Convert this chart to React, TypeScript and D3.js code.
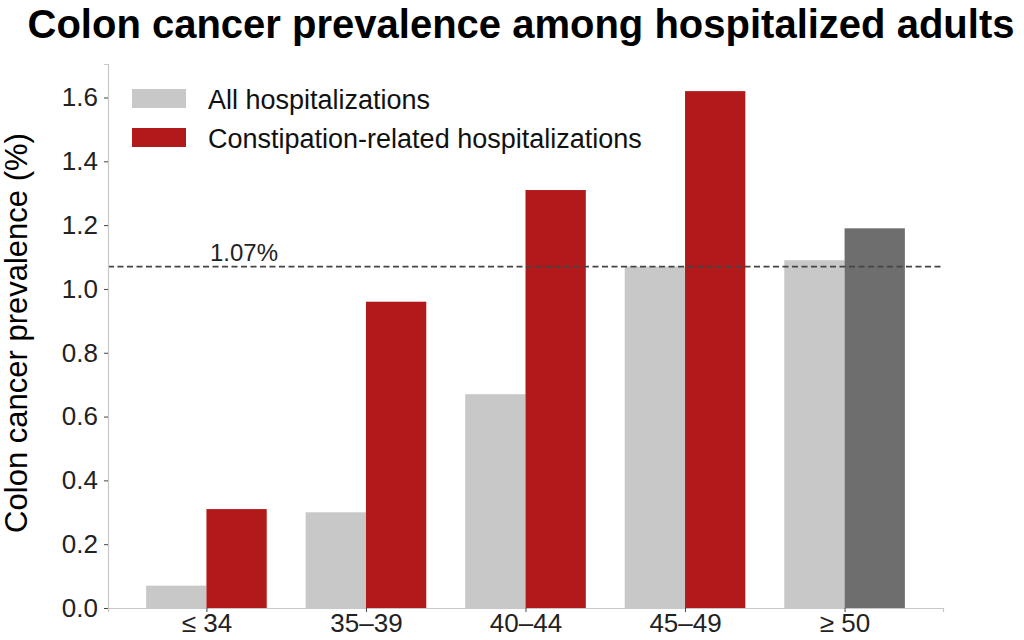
import * as d3 from "d3";
import { useEffect, useRef } from "react";

const CATEGORIES = ["≤ 34", "35–39", "40–44", "45–49", "≥ 50"];
const ALL_HOSP = [0.07, 0.3, 0.67, 1.07, 1.09];
const CONSTIP = [0.31, 0.96, 1.31, 1.62, 1.19];
const Y_TICKS = [0, 0.2, 0.4, 0.6, 0.8, 1.0, 1.2, 1.4, 1.6];
const REF_LINE = 1.07;
const LEGEND = ["All hospitalizations", "Constipation-related hospitalizations"];

const GRAY = "#c8c8c8";
const RED = "#b2191b";
const DARK = "#6e6e6e";
const FONT = "'Liberation Sans', Arial, sans-serif";

export default function App() {
  const ref = useRef<SVGSVGElement | null>(null);

  useEffect(() => {
    const svg = d3.select(ref.current);
    svg.selectAll("*").remove();

    const width = 1024;
    const height = 640;
    const left = 108;
    const right = 943;
    const top = 64;
    const bottom = 608;

    const x = d3.scalePoint<string>().domain(CATEGORIES).range([left, right]).padding(0.617);
    const y = d3.scaleLinear().domain([0, 1.705]).range([bottom, top]);
    const barW = x.step() * 0.378;

    svg.attr("width", width).attr("height", height).style("font-family", FONT);

    svg.append("text")
      .attr("x", 521)
      .attr("y", 38)
      .attr("text-anchor", "middle")
      .attr("font-size", 40)
      .attr("font-weight", "bold")
      .attr("fill", "#000")
      .text("Colon cancer prevalence among hospitalized adults");

    // bars
    CATEGORIES.forEach((c, i) => {
      const cx = x(c) ?? 0;
      svg.append("rect")
        .attr("x", cx - barW)
        .attr("y", y(ALL_HOSP[i]))
        .attr("width", barW)
        .attr("height", y(0) - y(ALL_HOSP[i]))
        .attr("fill", GRAY);
      svg.append("rect")
        .attr("x", cx)
        .attr("y", y(CONSTIP[i]))
        .attr("width", barW)
        .attr("height", y(0) - y(CONSTIP[i]))
        .attr("fill", i === CATEGORIES.length - 1 ? DARK : RED);
    });

    // reference line
    svg.append("line")
      .attr("x1", left)
      .attr("x2", right - 2)
      .attr("y1", y(REF_LINE))
      .attr("y2", y(REF_LINE))
      .attr("stroke", "#444")
      .attr("stroke-width", 1.6)
      .attr("stroke-dasharray", "6,3.5");
    svg.append("text")
      .attr("x", 210)
      .attr("y", y(REF_LINE) - 6)
      .attr("font-size", 24)
      .attr("fill", "#222")
      .text("1.07%");

    // axes
    const yAxis = svg.append("g").attr("transform", `translate(${left},0)`)
      .call(d3.axisLeft(y).tickValues(Y_TICKS).tickFormat(d3.format(".1f")).tickSize(4).tickPadding(6));
    yAxis.select(".domain").attr("stroke", "#c8c8c8").attr("stroke-width", 1.2);
    yAxis.selectAll(".tick line").attr("stroke", "#444");
    yAxis.selectAll(".tick text").attr("font-size", 26).attr("fill", "#222").attr("font-family", FONT);

    const xAxis = svg.append("g").attr("transform", `translate(0,${bottom})`)
      .call(d3.axisBottom(x).tickSize(4).tickPadding(2));
    xAxis.select(".domain").attr("stroke", "#c8c8c8").attr("stroke-width", 1.2);
    xAxis.selectAll(".tick line").attr("stroke", "#444");
    xAxis.selectAll(".tick text").attr("font-size", 26).attr("fill", "#222").attr("font-family", FONT);

    svg.append("text")
      .attr("transform", `translate(27,333) rotate(-90)`)
      .attr("text-anchor", "middle")
      .attr("font-size", 31)
      .attr("fill", "#000")
      .text("Colon cancer prevalence (%)");

    // legend
    LEGEND.forEach((label, i) => {
      const ly = 89 + i * 39;
      svg.append("rect")
        .attr("x", 132)
        .attr("y", ly)
        .attr("width", 54)
        .attr("height", 19)
        .attr("fill", i === 0 ? GRAY : RED);
      svg.append("text")
        .attr("x", 208)
        .attr("y", ly + 20)
        .attr("font-size", 27)
        .attr("fill", "#111")
        .text(label);
    });
  }, []);

  return <svg ref={ref} style={{ position: "absolute", left: 0, top: 0 }} />;
}
